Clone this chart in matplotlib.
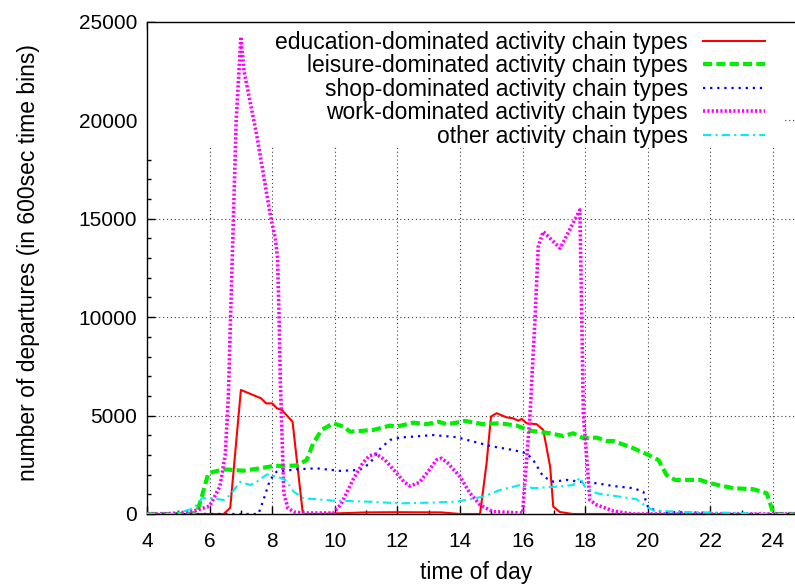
"""
Departures per 600sec time bin over the day, by activity chain type.
"""

import matplotlib

matplotlib.use("Agg")

import matplotlib.pyplot as plt  # noqa: E402
from matplotlib.patches import Rectangle  # noqa: E402
from matplotlib.ticker import MultipleLocator  # noqa: E402

plt.rcParams["font.family"] = ["Liberation Sans", "DejaVu Sans"]

# values (hour of day, departures)
edu_t = [4.0, 6.45, 6.66, 7.0, 7.64, 7.81, 8.0, 8.15, 8.31, 8.65, 8.98, 9.5,
         11.0, 12.0, 13.4, 14.0, 14.64, 14.85, 14.99, 15.17, 15.49, 15.7,
         15.86, 15.97, 16.13, 16.45, 16.66, 16.88, 16.98, 17.19, 17.6, 24.7]
edu_v = [0, 0, 320, 6300, 5880, 5620, 5620, 5370, 5280, 4690, 0, 0,
         80, 90, 80, 0, 0, 2590, 4950, 5120, 4910, 4860,
         4740, 4830, 4610, 4560, 4270, 2400, 370, 100, 0, 0]

lei_t = [4.0, 5.2, 5.59, 5.75, 5.96, 6.44, 7.08, 7.61, 8.04, 8.78, 9.1, 9.31,
         9.58, 9.95, 10.27, 10.49, 11.23, 11.76, 11.98, 12.51, 12.93, 13.31,
         13.57, 13.89, 14.16, 14.74, 15.28, 15.81, 16.24, 16.88, 17.3, 17.62,
         17.94, 18.37, 18.69, 18.9, 19.54, 20.02, 20.34, 20.6, 20.87, 21.67,
         21.99, 22.73, 23.37, 23.8, 23.96, 24.01, 24.7]
lei_v = [0, 0, 50, 880, 2070, 2270, 2200, 2320, 2440, 2460, 2740, 3590,
         4270, 4610, 4440, 4180, 4270, 4490, 4440, 4640, 4560, 4690,
         4560, 4640, 4730, 4560, 4610, 4490, 4230, 4100, 3960, 4100,
         3850, 3880, 3710, 3710, 3340, 3000, 2740, 1980, 1730, 1730,
         1560, 1310, 1260, 1050, 290, 0, 0]

shop_t = [4.0, 7.56, 7.72, 7.93, 8.14, 8.78, 9.42, 10.17, 10.8, 11.12, 11.44,
          11.76, 12.08, 13.15, 13.9, 14.64, 15.07, 15.7, 16.13, 16.34, 16.66,
          16.98, 17.41, 17.83, 18.37, 18.9, 19.54, 19.86, 19.91, 20.02, 20.5,
          22.0, 22.5, 24.7]
shop_v = [0, 0, 710, 1730, 2150, 2270, 2320, 2190, 2240, 2570, 3300,
          3760, 3880, 4010, 3900, 3590, 3420, 3250, 3080, 2740, 1900,
          1640, 1730, 1640, 1560, 1420, 1310, 1130, 800, 290, 100,
          60, 0, 0]

work_t = [4.0, 4.5, 5.0, 5.5, 6.0, 6.33, 6.5, 6.6, 6.67, 6.76, 6.85, 7.0,
          7.1, 7.5, 7.95, 8.1, 8.17, 8.22, 8.26, 8.37, 8.5, 8.7, 9.0, 9.95,
          10.2, 10.6, 10.9, 11.1, 11.32, 11.6, 11.98, 12.2, 12.4, 12.7, 13.0,
          13.25, 13.41, 13.6, 14.0, 14.3, 14.64, 15.05, 16.0, 16.24,
          16.4, 16.5, 16.66, 17.2, 17.83, 17.89, 17.94, 18.15, 18.37, 18.9,
          19.5, 24.7]
work_v = [0, 0, 50, 150, 400, 1400, 3000, 6000, 10000, 15000, 20000, 24250,
          22500, 19300, 15100, 14000, 13000, 10000, 6800, 1060, 300, 100, 50, 50,
          500, 1800, 2600, 2950, 3050, 2750, 2070, 1650, 1420, 1600, 2200,
          2750, 2830, 2600, 1900, 1100, 460, 120, 50, 5120,
          10030, 13580, 14350, 13500, 15450, 10030, 5120, 710, 460, 150,
          0, 0]

oth_t = [4.0, 4.9, 5.49, 5.76, 6.08, 6.45, 6.66, 6.98, 7.3, 7.51, 7.83, 8.15,
         8.42, 8.69, 9.0, 9.95, 11.02, 12.08, 13.15, 13.9, 14.74, 15.28, 15.92,
         16.34, 17.08, 17.62, 17.83, 17.99, 18.37, 19.1, 19.64, 19.96, 20.18,
         21.14, 23.0, 23.5, 24.7]
oth_v = [0, 0, 290, 800, 800, 710, 970, 1640, 1470, 1640, 2010, 1900,
         1730, 1130, 800, 680, 630, 540, 580, 630, 880, 1220, 1470,
         1310, 1390, 1470, 1850, 1390, 1050, 880, 750, 370, 170,
         100, 50, 0, 0]

labels = [
    "education-dominated activity chain types",
    "leisure-dominated activity chain types",
    "shop-dominated activity chain types",
    "work-dominated activity chain types",
    "other activity chain types",
]

FS = 16.5
TICK_FS = 15

fig = plt.figure(figsize=(7.95, 5.86), dpi=100)
ax = fig.add_axes([0.1849, 0.1229, 0.8268, 0.8396])

ax.plot(edu_t, edu_v, color="#ff0000", lw=1.5, label=labels[0], zorder=3)
ax.plot(lei_t, lei_v, color="#00ee00", lw=3.0, ls=(0, (2.2, 1.0)),
        label=labels[1], zorder=3)
ax.plot(shop_t, shop_v, color="#0000ff", lw=1.6, ls=(0, (1.0, 2.2)),
        label=labels[2], zorder=3)
ax.plot(work_t, work_v, color="#ff00ff", lw=2.6, ls=(0, (0.6, 0.6)),
        label=labels[3], zorder=3)
ax.plot(oth_t, oth_v, color="#00eeee", lw=1.5, ls=(0, (4.0, 2.0, 1.0, 2.0)),
        label=labels[4], zorder=3)

ax.set_xlim(4, 25)
ax.set_ylim(0, 25000)
ax.set_xticks(range(4, 25, 2))
ax.xaxis.set_minor_locator(MultipleLocator(1))
ax.yaxis.set_major_locator(MultipleLocator(5000))
ax.yaxis.set_minor_locator(MultipleLocator(1000))
ax.tick_params(which="both", direction="in", top=True, right=True,
               labelsize=TICK_FS)
ax.tick_params(which="major", length=6, width=1)
ax.tick_params(which="minor", length=3, width=1)
ax.tick_params(axis="x", pad=13)
ax.tick_params(axis="y", pad=7)

ax.set_axisbelow(True)
ax.grid(True, which="major", color="0.25", lw=0.8, ls=(0, (1, 2.5)))

# the key area hides the grid behind it, like the original
ax.add_patch(Rectangle((4.0, 18650), 20.38, 6350, facecolor="white",
                       edgecolor="none", zorder=1))

ax.set_xlabel("time of day", fontsize=FS)
ax.set_ylabel("number of departures (in 600sec time bins)", fontsize=FS)
ax.xaxis.label.set_va("center")
ax.yaxis.label.set_va("center")
ax.xaxis.set_label_coords(0.5, -0.118)
ax.yaxis.set_label_coords(-0.181, 0.51)

ax.legend(loc="upper right", bbox_to_anchor=(0.940, 0.982), frameon=False,
          markerfirst=False, fontsize=FS, handlelength=2.7,
          handletextpad=0.65, labelspacing=0.02, borderpad=0,
          borderaxespad=0)

for side in ("top", "right", "bottom", "left"):
    ax.spines[side].set_linewidth(1.0)

fig.savefig("out.png", dpi=100)
plt.close(fig)
